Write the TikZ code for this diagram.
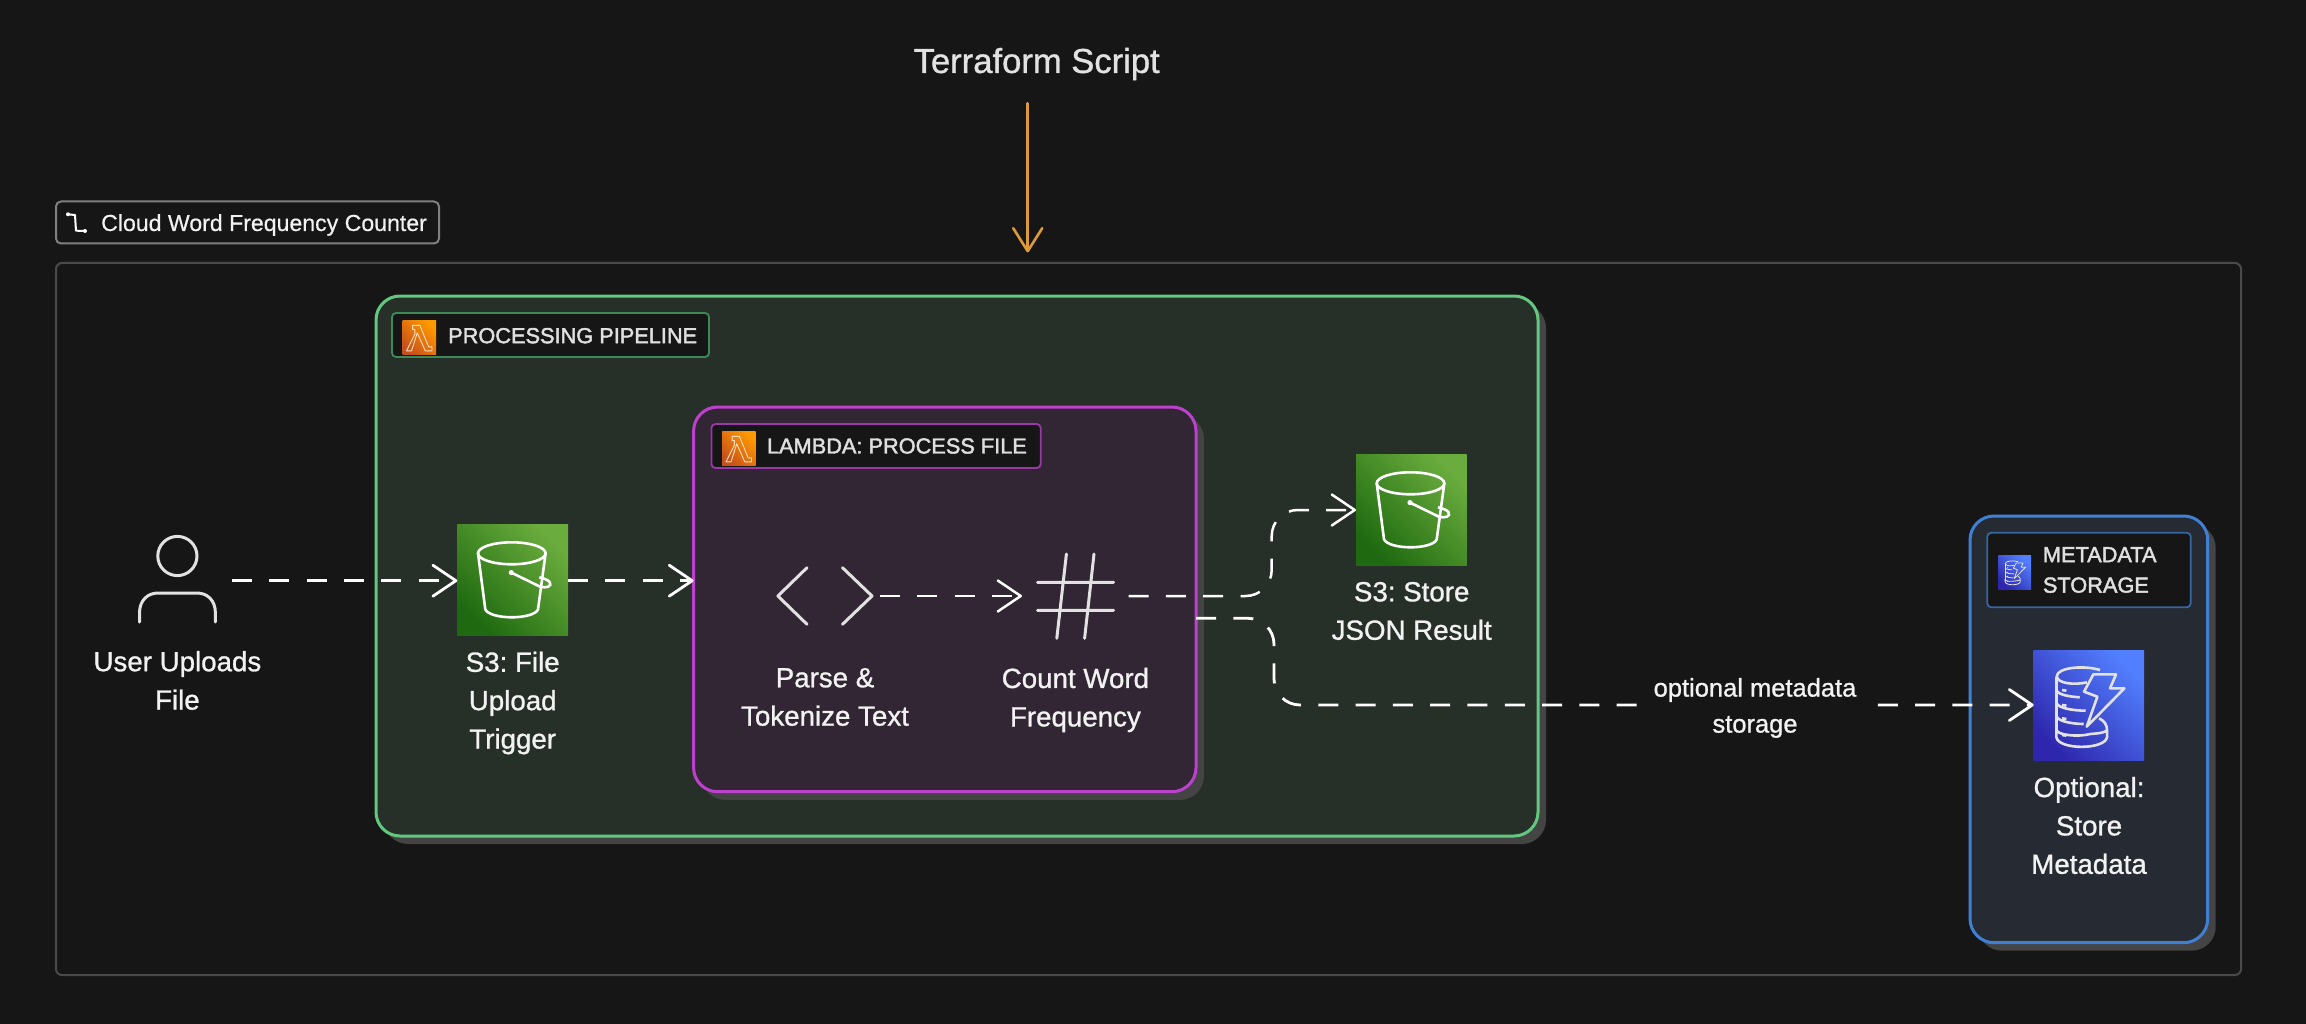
\documentclass[tikz,border=0pt]{standalone}
\usepackage{fontspec}
\setmainfont{Liberation Sans}
\newfontfamily\capsfont[FakeBold=2]{Liberation Sans}
\newfontfamily\bodyfont[FakeBold=1]{Liberation Sans}
\newfontfamily\titlefont[FakeBold=0.5]{Liberation Sans}
\usetikzlibrary{arrows.meta}
\definecolor{bgc}{HTML}{161616}
\definecolor{shadowc}{HTML}{444444}
\definecolor{framec}{HTML}{4A4A4A}
\definecolor{tagc}{HTML}{808080}
\definecolor{greenc}{HTML}{62C77F}
\definecolor{greenf}{HTML}{272F29}
\definecolor{greentag}{HTML}{3C8A58}
\definecolor{purplec}{HTML}{BE40CE}
\definecolor{purplef}{HTML}{322634}
\definecolor{purpletag}{HTML}{9A38A8}
\definecolor{bluec}{HTML}{3F7FD4}
\definecolor{bluef}{HTML}{262A33}
\definecolor{bluetag}{HTML}{36679F}
\definecolor{iconc}{HTML}{E2E2E2}
\definecolor{orangec}{HTML}{DB9A3C}
\definecolor{textc}{HTML}{F2F2F2}
\definecolor{s3a}{HTML}{1F6A10}\definecolor{s3b}{HTML}{6AAC3D}
\definecolor{dyna}{HTML}{2E27AD}\definecolor{dynb}{HTML}{527FFF}
\definecolor{lama}{HTML}{C8511B}\definecolor{lamb}{HTML}{FF9900}
\newcommand{\placebox}[6][]{%
  \pgfmathsetlengthmacro\bw{#5-#3}\pgfmathsetlengthmacro\bh{#6-#4}%
  \node[anchor=north west,minimum width=\bw,minimum height=\bh,inner sep=0pt,outer sep=0pt,#1] (#2) at (#3,#4) {};}
\tikzset{
  shadowbox/.style={fill=shadowc,rounded corners=24pt},
  groupbox/.style={line width=3pt,rounded corners=24pt},
  tagbox/.style={fill=bgc,line width=1.8pt,rounded corners=4pt},
  s3shade/.style={shading=axis,left color=s3a,right color=s3b,shading angle=135},
  dynshade/.style={shading=axis,left color=dyna,right color=dynb,shading angle=135},
  lamshade/.style={shading=axis,left color=lama,right color=lamb,shading angle=135},
  caption/.style={align=center,text=textc,font=\bodyfont\frenchspacing\fontsize{27.7}{38.4}\selectfont,inner sep=0pt},
  tagtext/.style={text=textc!92!black,font=\capsfont\frenchspacing\fontsize{21.75}{30.5}\selectfont,inner sep=0pt,align=left},
  flow/.style={draw=white,line width=2.8pt,line cap=butt,dash pattern=on 20pt off 17.3pt,
    -{Straight Barb[length=23pt,width=31pt,line cap=round,line join=round]}},
  icon/.style={draw=iconc,line width=3pt,line cap=round,line join=round},
  bucket/.pic={
    \draw[white] (54.5,29) ellipse [x radius=33.8,y radius=11];
    \draw[white] (20.7,29) -- (28,85) .. controls (30,90) and (42,93) .. (54.5,93)
      .. controls (67,93) and (79,90) .. (80.7,85) -- (88.3,29);
    \fill[white] (54,48.3) circle (2.6);
    \draw[white] (54,48.3) -- (82,62) .. controls (89,64.5) and (95,62) .. (92.5,58)
      .. controls (91,55.5) and (86,54) .. (82,53);
  },
  dynamo/.pic={
    \begin{scope}[scale=1/3]
    \draw[iconc,line join=round] (179,73) -- (247,73) -- (229,115) -- (272,115) -- (159,230) -- (191,140) -- (151,125) -- cycle;
    \draw[iconc] (199,60) .. controls (150,45) and (69,52) .. (69,80)
      .. controls (72,100) and (120,106) .. (160,97);
    \draw[iconc] (69,80) -- (69,240);
    \draw[iconc] (69,122) .. controls (75,135) and (110,140) .. (138,142);
    \draw[iconc] (69,160) .. controls (75,175) and (120,182) .. (156,182);
    \draw[iconc] (69,200) .. controls (75,215) and (120,222) .. (150,222);
    \draw[iconc] (196,205) .. controls (212,212) and (220,225) .. (220,240)
      -- (220,262) .. controls (212,300) and (75,300) .. (68,262) -- (68,240)
      .. controls (72,255) and (130,262) .. (170,252)
      .. controls (195,250) and (215,248) .. (220,240);
    \draw[iconc] (85,120) -- (98,122) (85,165) -- (98,167) (85,205) -- (98,207) (85,255) -- (98,257);
    \end{scope}
  },
  lambdaglyph/.pic={
    \draw[white!75!orange,line join=round] (30,14) -- (52,14) -- (78,78) -- (88,78) -- (88,90) -- (68,90) -- (44,36) -- (27,90) -- (12,90) -- (37,40) -- (37,26) -- (30,26) -- cycle;
  }
}
\begin{document}
\begin{tikzpicture}[x=1pt,y=-1pt]
\useasboundingbox[fill=bgc] (0,0) rectangle (2306,1024);
% outer frame and title tag
\placebox[draw=framec,line width=2pt,rounded corners=6pt]{frame}{56}{263}{2241}{975}
\placebox[draw=tagc,line width=2pt,rounded corners=5pt]{titletag}{56}{201.5}{439}{243.5}
\draw[white,line width=2pt,line join=round] (68,214.3) -- (75,215) -- (76,230.7) -- (85,231);
\fill[white] (68,214.3) circle (2) (85,231) circle (2);
\node[anchor=west,text=textc,inner sep=0pt,font=\titlefont\frenchspacing\fontsize{23.1}{28}\selectfont] (titletxt) at (101,225) {Cloud Word Frequency Counter};
% terraform
\node[text=iconc,inner sep=0pt,font=\bodyfont\frenchspacing\fontsize{34.6}{40}\selectfont] (tf) at (1036.7,64) {Terraform Script};
\coordinate (tfin) at (1027.7,252.5);
\draw[draw=orangec,line width=2.6pt,line cap=round,-{Straight Barb[length=23pt,width=29pt,line cap=round,line join=round]}] (1027.7,103.3) -- (tfin);
% green group
\placebox[shadowbox]{gshadow}{384}{304}{1546}{844}
\placebox[draw=greenc,fill=greenf,groupbox]{pipeline}{376}{296}{1538}{836}
\placebox[draw=greentag,tagbox]{ptag}{392}{313}{709}{357}
\placebox[lamshade]{picon}{402.5}{320.7}{436}{354}
\pic[scale=0.335,line width=0.9pt] at (402.5,320.7) {lambdaglyph};
\node[anchor=west,tagtext] (ptxt) at (448,335.7) {PROCESSING PIPELINE};
% purple group
\placebox[shadowbox]{lshadow}{701.6}{415}{1204}{800}
\placebox[draw=purplec,fill=purplef,groupbox]{lambda}{693.6}{407}{1196}{791.7}
\placebox[draw=purpletag,tagbox]{ltag}{711.4}{424}{1040.7}{468}
\placebox[lamshade]{licon}{722}{431.7}{755.7}{465}
\pic[scale=0.335,line width=0.9pt] at (722,431.7) {lambdaglyph};
\node[anchor=west,tagtext] (ltxt) at (766.8,446) {LAMBDA: PROCESS FILE};
% blue group
\placebox[shadowbox]{bshadow}{1978}{524}{2215.7}{950.7}
\placebox[draw=bluec,fill=bluef,groupbox]{meta}{1970}{516}{2207.7}{942.7}
\placebox[draw=bluetag,tagbox]{mtag}{1987.3}{532.7}{2190.7}{607.3}
\placebox[dynshade]{micon}{1998.3}{555.7}{2031}{589}
\pic[scale=0.3,line width=0.8pt] at (1998.3,555.7) {dynamo};
\node[anchor=west,tagtext] (mtxt) at (2042.7,570) {METADATA\\STORAGE};
% user
\placebox{user}{139.5}{536}{215.4}{622}
\draw[icon] (177.4,556) circle (19.6);
\draw[icon] (139.5,622) -- (139.5,613) .. controls (139.5,600) and (148,593) .. (158,593) -- (197,593) .. controls (207,593) and (215.4,600) .. (215.4,613) -- (215.4,622);
\node[caption] (usertxt) at (177.4,680.5) {User Uploads\\File};
% S3 trigger
\placebox[s3shade]{s3up}{457.3}{524.3}{568}{635}
\pic[line width=2.6pt] at (457.3,524.3) {bucket};
\node[caption] (s3uptxt) at (512.7,703) {S3: File\\Upload\\Trigger};
% parse
\placebox{parse}{777.9}{567.7}{872}{624.3}
\draw[icon] (807,567.7) -- (777.9,596) -- (807,624.3);
\draw[icon] (842.5,567.7) -- (872,596) -- (842.5,624.3);
\node[caption] (parsetxt) at (825,697) {Parse \&\\Tokenize Text};
% count
\placebox{count}{1037.5}{554}{1113.6}{638.3}
\draw[icon] (1037.5,582.3) -- (1113.6,582.3) (1037.5,610.3) -- (1113.6,610.3)
  (1066.4,554) -- (1056.8,638.3) (1094,554) -- (1084.6,638.3);
\node[caption] (counttxt) at (1075.4,700) {Count Word\\Frequency};
% S3 store
\placebox[s3shade]{s3out}{1356}{454.3}{1466.7}{565}
\pic[line width=2.6pt] at (1356,454.3) {bucket};
\node[caption] (s3outtxt) at (1411.7,611) {S3: Store\\JSON Result};
% dynamo
\placebox[dynshade]{dyn}{2033.7}{650}{2144}{760}
\pic[line width=2.6pt] at (2033.7,650) {dynamo};
\node[caption] (dyntxt) at (2089,825.5) {Optional:\\Store\\Metadata};
% connectors
\coordinate (uy) at (232,580.7);
\draw[flow] (uy) -- (uy -| s3up.west);
\coordinate (sy) at (568,580.7);
\draw[flow] (sy) -- (sy -| lambda.west);
\coordinate (py) at (880,596);
\draw[flow,line width=2.5pt] (py) -- (1022,596);
\coordinate (cy) at (1128.6,596);
\coordinate (oy) at (1356,510);
\draw[flow,line width=2.5pt,rounded corners=26pt] (cy) -- (1271.7,596) -- (1271.7,510) -- (oy);
\coordinate (ly) at (1196,618.3);
\coordinate (dy) at (2033.7,705);
\draw[flow,rounded corners=26pt] (ly) -- (1274,618.3) -- (1274,705) -- (dy);
\node[fill=bgc,minimum width=227pt,minimum height=74pt,inner sep=0pt,align=center,text=textc,font=\bodyfont\frenchspacing\fontsize{25.5}{36}\selectfont] (optlabel) at (1755,708) {optional metadata\\storage};
\end{tikzpicture}
\end{document}
